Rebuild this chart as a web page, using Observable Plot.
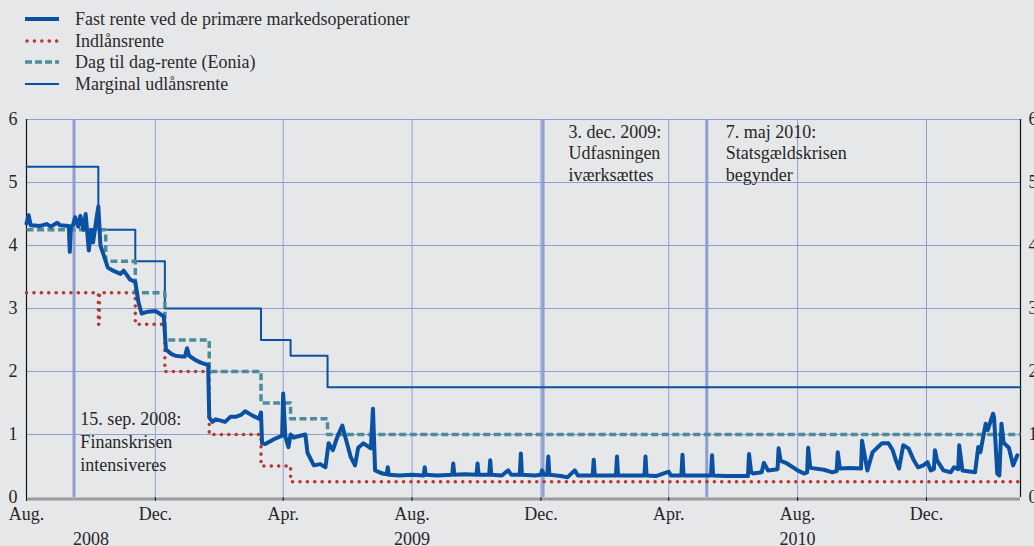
<!DOCTYPE html>
<html><head><meta charset="utf-8">
<script src="https://cdn.jsdelivr.net/npm/d3@7"></script>
<script src="https://cdn.jsdelivr.net/npm/@observablehq/plot@0.6"></script>
<style>
body{margin:0;background:#e6e7e9;width:1034px;height:546px;overflow:hidden;font-family:"Liberation Serif","Times New Roman",serif;color:#2a2a2a;position:relative}
#legend{position:absolute;left:0;top:0;width:600px;height:100px}
.row{position:absolute;left:0;height:22px;display:flex;align-items:center;font-size:18px;white-space:nowrap}
.row svg{position:absolute;left:25px;top:5px}
.row span{position:absolute;left:75px;top:0;line-height:22px}
#chart{position:absolute;left:0;top:100px}
</style></head><body>
<div id="legend"></div>
<div id="chart"></div>
<script>
// ---- data ----
const seriesNames = ["Fast rente ved de primære markedsoperationer","Indlånsrente","Dag til dag-rente (Eonia)","Marginal udlånsrente"];
const thickLine = [
["2008-08-01",4.35],["2008-08-03",4.48],["2008-08-05",4.32],["2008-08-14",4.31],["2008-08-20",4.34],["2008-08-24",4.30],["2008-08-30",4.36],["2008-09-02",4.32],["2008-09-10",4.31],["2008-09-11",3.9],["2008-09-12",4.3],["2008-09-14",4.32],["2008-09-16",4.45],["2008-09-19",4.3],["2008-09-21",4.47],["2008-09-24",4.25],["2008-09-26",4.5],["2008-09-29",3.92],["2008-10-01",4.25],["2008-10-03",4.05],["2008-10-06",4.4],["2008-10-08",4.62],["2008-10-10",4.0],["2008-10-13",3.85],["2008-10-17",3.65],["2008-10-22",3.6],["2008-10-29",3.55],["2008-11-01",3.6],["2008-11-07",3.46],["2008-11-12",3.42],
["2008-11-15",3.1],["2008-11-18",2.92],["2008-11-24",2.95],["2008-12-01",2.96],["2008-12-05",2.92],["2008-12-09",2.87],["2008-12-11",2.35],["2008-12-16",2.28],["2008-12-20",2.25],["2008-12-25",2.24],["2008-12-29",2.24],["2008-12-31",2.37],["2009-01-02",2.25],["2009-01-08",2.18],["2009-01-13",2.14],["2009-01-20",2.1],["2009-01-21",1.27],["2009-01-24",1.2],["2009-01-27",1.24],["2009-02-01",1.22],["2009-02-05",1.2],["2009-02-10",1.28],["2009-02-15",1.28],["2009-02-20",1.31],["2009-02-24",1.37],["2009-03-03",1.3],["2009-03-09",1.25],["2009-03-11",1.35],["2009-03-12",0.86],["2009-03-15",0.85],["2009-03-25",0.94],["2009-03-31",0.98],["2009-04-01",1.65],["2009-04-03",0.97],["2009-04-06",0.8],["2009-04-08",1.0],["2009-04-11",0.95],["2009-04-17",0.98],["2009-04-22",1.0],["2009-04-24",0.71],["2009-04-30",0.51],["2009-05-06",0.53],["2009-05-11",0.48],["2009-05-14",0.86],["2009-05-18",0.75],["2009-05-22",0.95],["2009-05-27",1.14],["2009-05-30",0.95],["2009-06-04",0.64],["2009-06-08",0.51],["2009-06-11",0.79],["2009-06-16",0.86],["2009-06-23",0.78],["2009-06-25",1.41],["2009-06-27",0.43],["2009-07-04",0.38],["2009-07-08",0.37],["2009-07-09",0.48],["2009-07-10",0.36],
["2009-07-20",0.35],["2009-08-01",0.36],["2009-08-12",0.35],["2009-08-13",0.48],["2009-08-14",0.36],["2009-08-25",0.35],["2009-09-08",0.36],["2009-09-09",0.54],["2009-09-10",0.36],["2009-09-20",0.37],["2009-10-01",0.36],["2009-10-02",0.54],["2009-10-03",0.36],["2009-10-13",0.36],["2009-10-14",0.59],["2009-10-15",0.36],["2009-10-25",0.35],["2009-10-31",0.43],["2009-11-03",0.36],["2009-11-11",0.36],["2009-11-12",0.70],["2009-11-13",0.36],["2009-11-25",0.35],["2009-12-01",0.36],["2009-12-02",0.43],["2009-12-04",0.36],["2009-12-07",0.36],["2009-12-08",0.65],["2009-12-09",0.36],["2009-12-20",0.34],["2009-12-26",0.32],["2010-01-02",0.43],["2010-01-05",0.35],["2010-01-19",0.35],["2010-01-20",0.60],["2010-01-21",0.35],["2010-02-10",0.35],["2010-02-11",0.65],["2010-02-12",0.35],["2010-03-09",0.35],["2010-03-10",0.65],["2010-03-11",0.35],["2010-03-20",0.34],["2010-04-01",0.41],["2010-04-03",0.35],["2010-04-13",0.35],["2010-04-14",0.68],["2010-04-15",0.35],["2010-05-11",0.35],["2010-05-12",0.67],["2010-05-13",0.35],["2010-05-25",0.34],["2010-06-15",0.34],["2010-06-16",0.69],["2010-06-18",0.4],["2010-06-20",0.38],["2010-06-28",0.4],["2010-06-30",0.55],["2010-07-04",0.43],["2010-07-13",0.45],["2010-07-14",0.78],["2010-07-16",0.58],["2010-07-22",0.54],["2010-08-01",0.43],["2010-08-07",0.38],["2010-08-10",0.4],["2010-08-11",0.79],["2010-08-13",0.47],["2010-08-26",0.44],["2010-09-03",0.40],["2010-09-07",0.42],["2010-09-08",0.72],["2010-09-10",0.46],["2010-09-20",0.47],["2010-09-30",0.46],["2010-10-01",0.90],["2010-10-06",0.43],["2010-10-11",0.72],["2010-10-16",0.80],["2010-10-20",0.86],["2010-10-26",0.86],["2010-10-30",0.75],["2010-11-02",0.59],["2010-11-05",0.46],["2010-11-09",0.83],["2010-11-14",0.78],["2010-11-19",0.59],["2010-11-23",0.48],["2010-11-28",0.51],["2010-12-02",0.56],["2010-12-05",0.43],["2010-12-08",0.45],["2010-12-09",0.75],["2010-12-11",0.59],["2010-12-17",0.43],["2010-12-24",0.40],["2010-12-27",0.48],["2010-12-31",0.45],["2011-01-01",0.83],["2011-01-04",0.43],["2011-01-16",0.40],["2011-01-19",0.80],["2011-01-21",0.72],["2011-01-26",1.17],["2011-01-28",1.07],["2011-02-02",1.33],["2011-02-03",1.27],["2011-02-06",0.38],["2011-02-08",0.35],["2011-02-10",1.17],["2011-02-12",0.87],["2011-02-17",0.79],["2011-02-21",0.51],["2011-02-25",0.67]
];
const depositRate = [["2008-08-01",3.25],["2008-10-08",2.75],["2008-10-09",3.25],["2008-11-12",2.75],["2008-12-10",2.0],["2009-01-21",1.0],["2009-03-11",0.5],["2009-04-08",0.25],["2011-02-28",0.25]];
const dashedRate = [["2008-08-01",4.25],["2008-10-15",3.75],["2008-11-12",3.25],["2008-12-10",2.5],["2009-01-21",2.0],["2009-03-11",1.5],["2009-04-08",1.25],["2009-05-13",1.0],["2011-02-28",1.0]];
const marginalRate = [["2008-08-01",5.25],["2008-10-08",4.25],["2008-11-12",3.75],["2008-12-10",3.0],["2009-03-11",2.5],["2009-04-08",2.25],["2009-05-13",1.75],["2011-02-28",1.75]];
const tickDates = ["2008-08-01","2008-12-01","2009-04-01","2009-08-01","2009-12-01","2010-04-01","2010-08-01","2010-12-01"];
const tickLabels = ["Aug.","Dec.","Apr.","Aug.","Dec.","Apr.","Aug.","Dec."];
const yearLabels = [["2008-10-01","2008"],["2009-08-01","2009"],["2010-08-01","2010"]];
const yTicks = [0,1,2,3,4,5,6];
const eventDates = ["2008-09-15","2009-12-03","2010-05-07"];
const eventTexts = [
  ["2008-09-21",0.905,"15. sep. 2008:\nFinanskrisen\nintensiveres",1.28],
  ["2009-12-27",5.48,"3. dec. 2009:\nUdfasningen\niværksættes",1.2],
  ["2010-05-25",5.48,"7. maj 2010:\nStatsgældskrisen\nbegynder",1.2]
];
const domainX = ["2008-08-01","2011-02-28"];

// ---- styles ----
const BLUE="#0b51a1", RED="#b5382f", TEAL="#4f8b9b", GRID="#8d9fd6", EVENT="#8e9dd2", INK="#262626";
const D = s => new Date(s);
const toPts = arr => arr.map(([d,v]) => ({date: D(d), value: v}));

// ---- legend ----
const legendStyles = [
  {stroke:BLUE, w:4, dash:null, cap:"butt"},
  {stroke:RED, w:3.5, dash:"0.1 7.3", cap:"round"},
  {stroke:TEAL, w:3.5, dash:"7 3", cap:"butt"},
  {stroke:BLUE, w:2, dash:null, cap:"butt"}
];
const rowY = [19,41,62,84];
const leg = document.getElementById("legend");
seriesNames.forEach((n,i)=>{
  const s = legendStyles[i];
  const r = document.createElement("div");
  r.className="row"; r.style.top=(rowY[i]-11)+"px"; r.style.width="600px";
  r.innerHTML = `<svg width="36" height="12"><line x1="${s.cap==='round'?2:0}" x2="34" y1="6" y2="6" stroke="${s.stroke}" stroke-width="${s.w}" ${s.dash?`stroke-dasharray="${s.dash}"`:""} stroke-linecap="${s.cap}"/></svg><span>${n}</span>`;
  leg.appendChild(r);
});

// ---- chart ----
const fmt = new Map(tickDates.map((d,i)=>[+D(d), tickLabels[i]]));
const chart = Plot.plot({
  width: 1034, height: 446,
  marginLeft: 26, marginRight: 14, marginTop: 19, marginBottom: 49,
  style: {background:"transparent", fontFamily:'"Liberation Serif","Times New Roman",serif', fontSize:"18px", color:INK, overflow:"visible"},
  x: {type:"utc", domain: domainX.map(D), label: null},
  y: {domain:[0,6], label: null},
  marks: [
    Plot.ruleY([1,2,3,4,5,6], {stroke:GRID, strokeWidth:1}),
    Plot.ruleX(tickDates.slice(1).map(D), {stroke:GRID, strokeWidth:1}),
    Plot.ruleX(eventDates.map(D), {stroke:EVENT, strokeWidth:3}),
    Plot.ruleX([D(domainX[0])], {y1:0, y2:6, stroke:"#111", strokeWidth:1.2}),
    Plot.ruleX([D(domainX[1])], {y1:0, y2:6, stroke:"#111", strokeWidth:1.2}),
    Plot.ruleY([0], {stroke:"#9c9c9c", strokeWidth:3, dy:1.5}),
    Plot.line(toPts(marginalRate), {x:"date", y:"value", curve:"step-after", stroke:BLUE, strokeWidth:2}),
    Plot.line(toPts(depositRate), {x:"date", y:"value", curve:"step-after", stroke:RED, strokeWidth:3.5, strokeDasharray:"0.1 7.3", strokeLinecap:"round"}),
    Plot.line(toPts(dashedRate), {x:"date", y:"value", curve:"step-after", stroke:TEAL, strokeWidth:3.5, strokeDasharray:"7 3.5", strokeLinecap:"butt"}),
    Plot.line(toPts(thickLine), {x:"date", y:"value", stroke:BLUE, strokeWidth:4, strokeLinejoin:"round"}),
    ...eventTexts.map(([d,v,t,lh]) => Plot.text([{date:D(d), value:v, t}], {x:"date", y:"value", text:"t", textAnchor:"start", lineAnchor:"middle", lineHeight:lh, fontSize:18, fill:INK})),
    Plot.axisY(yTicks, {anchor:"left", tickSize:0, tickPadding:9, fontSize:18, fill:INK, label:null, tickFormat:d3.format("d")}),
    Plot.axisY(yTicks, {anchor:"right", tickSize:0, tickPadding:8, fontSize:18, fill:INK, label:null, tickFormat:d3.format("d")}),
    Plot.axisX(tickDates.map(D), {anchor:"bottom", tickSize:4, tickPadding:6, stroke:"#111", fontSize:18, fill:INK, label:null, tickFormat: d => fmt.get(+d)}),
    Plot.text(yearLabels.map(([d,t])=>({date:D(d), t})), {x:"date", y:()=>-0.665, text:"t", fontSize:18, fill:INK, textAnchor:"middle", lineAnchor:"middle"})
  ]
});
document.getElementById("chart").appendChild(chart);
</script>
</body></html>
